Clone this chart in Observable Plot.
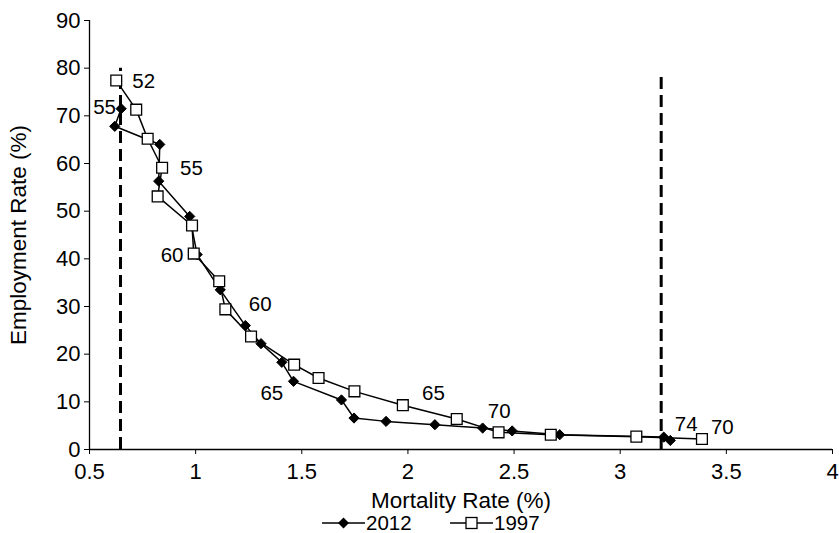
<!DOCTYPE html>
<html><head><meta charset="utf-8">
<script src="https://cdn.jsdelivr.net/npm/d3@7"></script>
<script src="https://cdn.jsdelivr.net/npm/@observablehq/plot@0.6"></script>
<style>
body{margin:0;background:#fff;font-family:"Liberation Sans",Arial,sans-serif;}
#wrap{position:relative;width:839px;height:533px;overflow:hidden;}
.leg{position:absolute;top:511px;height:24px;display:flex;align-items:center;font-size:20.5px;color:#000;}
.leg svg{display:block;}
</style></head><body><div id="wrap"></div>
<script>
// Series: 2012 (ages 55..74), 1997 (ages 52..70)
const mort2012 = [0.649, 0.619, 0.831, 0.826, 0.972, 1.007, 1.116, 1.234, 1.308, 1.406, 1.461, 1.687, 1.746, 1.897, 2.127, 2.352, 2.491, 2.715, 3.205, 3.236];
const emp2012  = [71.5, 67.8, 64.0, 56.3, 48.9, 40.9, 33.5, 26.0, 22.2, 18.3, 14.3, 10.4, 6.6, 5.9, 5.2, 4.5, 3.9, 3.1, 2.6, 1.9];
const mort1997 = [0.626, 0.720, 0.774, 0.842, 0.821, 0.983, 0.991, 1.111, 1.140, 1.261, 1.464, 1.579, 1.748, 1.976, 2.230, 2.427, 2.673, 3.076, 3.385];
const emp1997  = [77.4, 71.3, 65.2, 59.1, 53.1, 47.0, 41.1, 35.3, 29.4, 23.7, 17.8, 15.0, 12.2, 9.3, 6.4, 3.6, 3.1, 2.7, 2.2];
const seriesNames = ["2012", "1997"];
const xTicks = [0.5, 1, 1.5, 2, 2.5, 3, 3.5, 4];
const yTicks = [0, 10, 20, 30, 40, 50, 60, 70, 80, 90];
const refX = [0.646, 3.193];
const refTop = [80, 78.6];
const ageLabels = ["52", "55", "55", "60", "60", "65", "65", "70", "74", "70"];
const ageLabelX = [0.755, 0.571, 0.980, 0.889, 1.304, 1.359, 2.120, 2.430, 3.311, 3.481];
const ageLabelY = [77.3, 71.8, 58.9, 40.7, 30.4, 11.7, 11.8, 8.0, 5.2, 4.7];
const xTitle = "Mortality Rate (%)";
const yTitle = "Employment Rate (%)";

const d2012 = mort2012.map((m, i) => ({x: m, y: emp2012[i]}));
const d1997 = mort1997.map((m, i) => ({x: m, y: emp1997[i]}));
const refs = refX.map((x, i) => ({x, y2: refTop[i]}));
const labels = ageLabels.map((t, i) => ({t, x: ageLabelX[i], y: ageLabelY[i]}));

const chart = Plot.plot({
  width: 839, height: 505,
  marginLeft: 89, marginRight: 7, marginTop: 20, marginBottom: 56,
  style: {fontFamily: '"Liberation Sans", Arial, sans-serif', fontSize: "22px", color: "#000", background: "#fff", overflow: "visible"},
  x: {domain: [0.5, 4]},
  y: {domain: [0, 90]},
  marks: [
    Plot.axisX({ticks: xTicks, tickFormat: d => String(d), tickSize: 5, tickPadding: 9, label: null, fontSize: 22, stroke: "#000"}),
    Plot.axisY({ticks: yTicks, tickFormat: d => String(d), tickSize: 5, tickPadding: 4, label: null, fontSize: 22, stroke: "#000"}),
    Plot.ruleY([0], {stroke: "#000", strokeWidth: 1.3}),
    Plot.ruleX([0.5], {stroke: "#000", strokeWidth: 1.3}),
    Plot.ruleX(refs, {x: "x", y1: 0, y2: "y2", stroke: "#000", strokeWidth: 3, strokeDasharray: "12,6"}),
    Plot.line(d2012, {x: "x", y: "y", stroke: "#000", strokeWidth: 1.5}),
    Plot.dot(d2012, {x: "x", y: "y", symbol: "diamond2", fill: "#000", stroke: "#000", strokeWidth: 1, r: 4.6}),
    Plot.line(d1997, {x: "x", y: "y", stroke: "#000", strokeWidth: 1.5}),
    Plot.dot(d1997, {x: "x", y: "y", symbol: "square", fill: "#fff", stroke: "#000", strokeWidth: 1.3, r: 6.1}),
    Plot.text(labels, {x: "x", y: "y", text: "t", fontSize: 20.5, fill: "#000", textAnchor: "middle", lineAnchor: "middle", clip: false}),
    Plot.text([xTitle], {frameAnchor: "bottom", dy: 51, fontSize: 22.5, fill: "#000", textAnchor: "middle", lineAnchor: "middle"}),
    Plot.text([yTitle], {frameAnchor: "left", dx: -71, rotate: -90, fontSize: 22.5, fill: "#000", textAnchor: "middle", lineAnchor: "middle"})
  ]
});
const wrap = document.getElementById("wrap");
wrap.appendChild(chart);

// Legend
const legendStarts = [322, 450];
seriesNames.forEach((name, i) => {
  const div = document.createElement("div");
  div.className = "leg";
  div.style.left = legendStarts[i] + "px";
  const svg = d3.create("svg").attr("width", 43).attr("height", 24);
  svg.append("line").attr("x1", 0).attr("x2", 43).attr("y1", 12).attr("y2", 12).attr("stroke", "#000").attr("stroke-width", 1.5);
  if (i === 0) {
    svg.append("path").attr("d", "M21.5,6.5L27,12L21.5,17.5L16,12Z").attr("fill", "#000");
  } else {
    svg.append("rect").attr("x", 16).attr("y", 6.5).attr("width", 11).attr("height", 11).attr("fill", "#fff").attr("stroke", "#000").attr("stroke-width", 1.3);
  }
  div.appendChild(svg.node());
  const span = document.createElement("span");
  span.textContent = name;
  span.style.marginLeft = "1px";
  div.appendChild(span);
  wrap.appendChild(div);
});
</script>
</body></html>
